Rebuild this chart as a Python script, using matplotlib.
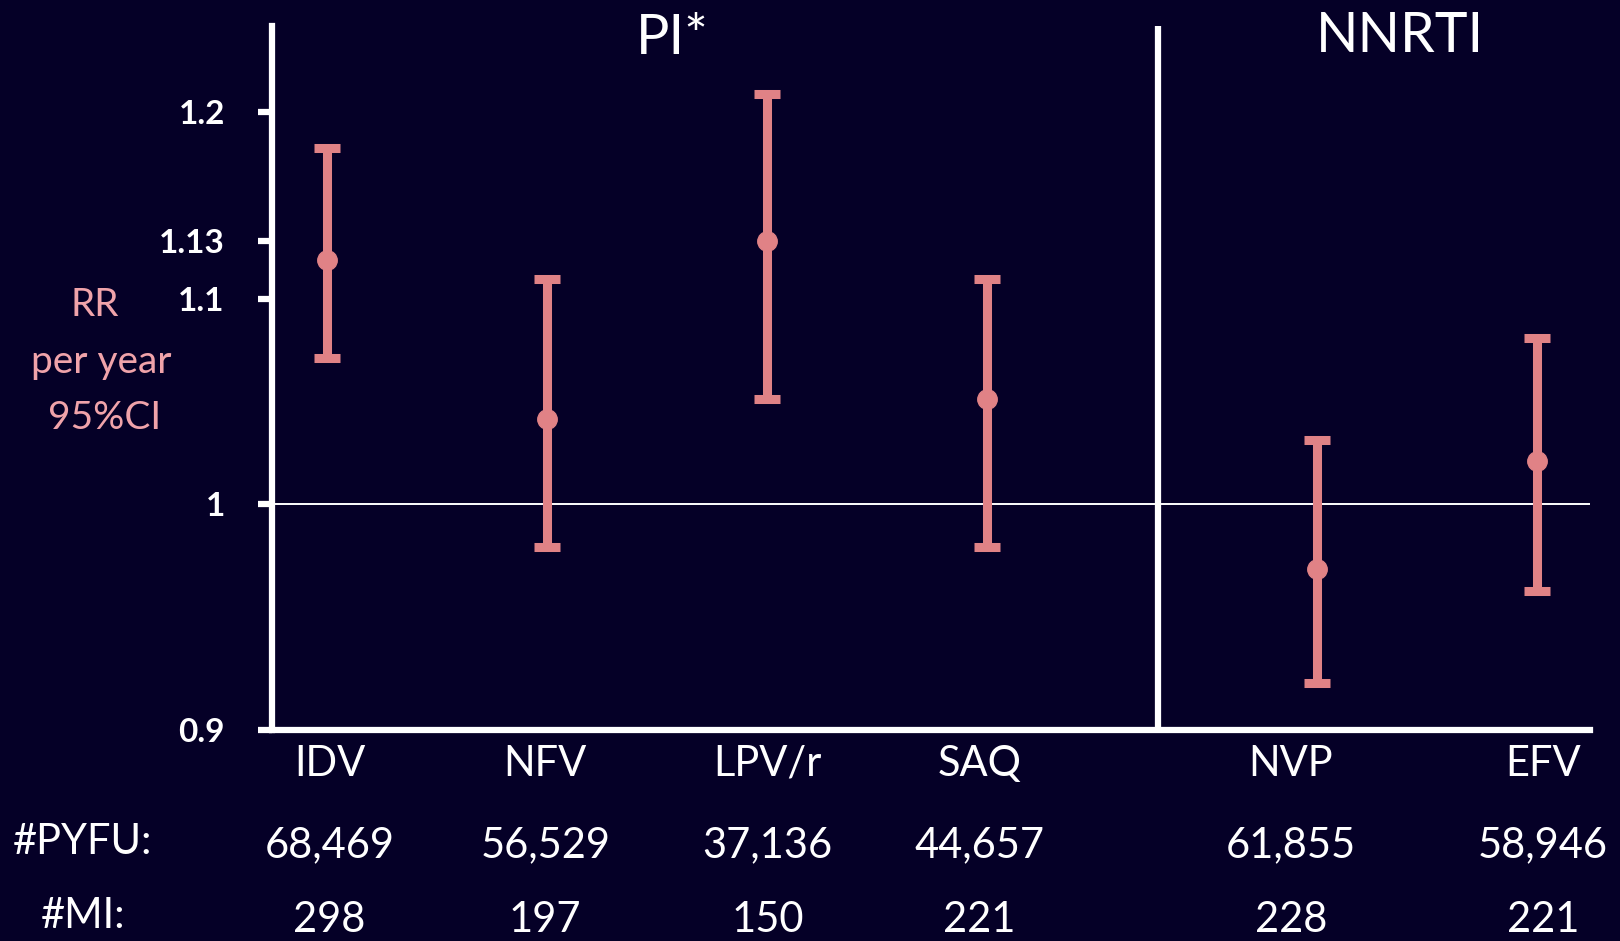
import matplotlib
matplotlib.use("Agg")
import matplotlib.pyplot as plt
import matplotlib.transforms as mtransforms
import numpy as np

# --- data ---
drugs = ["IDV", "NFV", "LPV/r", "SAQ", "NVP", "EFV"]
rr    = [1.12, 1.04, 1.13, 1.05, 0.97, 1.02]
lo    = [1.07, 0.98, 1.05, 0.98, 0.92, 0.96]
hi    = [1.18, 1.11, 1.21, 1.11, 1.03, 1.08]
pyfu  = ["68,469", "56,529", "37,136", "44,657", "61,855", "58,946"]
mi    = ["298", "197", "150", "221", "228", "221"]
yticks = [0.9, 1, 1.1, 1.13, 1.2]
yticklabels = ["0.9", "1", "1.1", "1.13", "1.2"]

# layout (not data): x slot of each drug, PI group then NNRTI group
xpos = [1, 2, 3, 4, 5.5, 6.5]
nudge = [0.01, -0.01, 0.0, -0.035, -0.12, 0.025]   # text columns sit a bit off the bars
sep = 4.775

BG = "#050027"; ERR = "#e08286"; PINK = "#f0a3aa"; W = "white"
plt.rcParams["font.family"] = ["Lato", "DejaVu Sans"]

fig = plt.figure(figsize=(16.2, 9.41), dpi=100, facecolor=BG)
ax = fig.add_axes([272 / 1620, 1 - 730 / 941, (1590 - 272) / 1620, (730 - 26) / 941])
ax.set_facecolor(BG)
ax.set_yscale("log")
ax.set_ylim(0.9, 1.249)
ax.set_xlim(0.748, 6.739)

rr_a = np.array(rr); lo_a = np.array(lo); hi_a = np.array(hi)
ax.axhline(1, color=W, lw=1.4, zorder=1)
ax.axvline(sep, color=W, lw=4.5, zorder=1)
ax.errorbar(xpos, rr_a, yerr=[rr_a - lo_a, hi_a - rr_a], fmt="o", color=ERR,
            ms=14, elinewidth=6.5, capsize=9.5, capthick=6.5, zorder=3)

for s in ("top", "right"): ax.spines[s].set_visible(False)
for s in ("left", "bottom"):
    ax.spines[s].set_color(W); ax.spines[s].set_linewidth(4.5)
ax.set_yticks(yticks); ax.set_yticklabels(yticklabels, fontweight="bold")
ax.yaxis.set_minor_locator(matplotlib.ticker.NullLocator())
ax.tick_params(axis="y", colors=W, length=10, width=4.5, pad=24, labelsize=24)
ax.set_xticks([])

# drug names + counts under each bar
tr = mtransforms.blended_transform_factory(ax.transData, fig.transFigure)
for x, d, p, m, n in zip(xpos, drugs, pyfu, mi, nudge):
    ax.text(x + n, 1 - 764 / 941, d, transform=tr, ha="center", va="center", color=W, fontsize=30)
    ax.text(x + n, 1 - 845 / 941, p, transform=tr, ha="center", va="center", color=W, fontsize=30)
    ax.text(x + n, 1 - 920 / 941, m, transform=tr, ha="center", va="center", color=W, fontsize=30)

fig.text(83 / 1620, 1 - 842 / 941, "#PYFU:", ha="center", va="center", color=W, fontsize=30)
fig.text(83 / 1620, 1 - 916 / 941, "#MI:", ha="center", va="center", color=W, fontsize=30)

# group headers
fig.text(672 / 1620, 1 - 39 / 941, "PI*", ha="center", va="center", color=W, fontsize=40)
fig.text(1400 / 1620, 1 - 36 / 941, "NNRTI", ha="center", va="center", color=W, fontsize=40)

# y label, pink, three lines
for txt, xc, yc in (("RR", 95, 305), ("per year", 101, 362), ("95%CI", 105, 418)):
    fig.text(xc / 1620, 1 - yc / 941, txt, ha="center", va="center", color=PINK, fontsize=28)

fig.savefig("out.png", dpi=100, facecolor=BG)
